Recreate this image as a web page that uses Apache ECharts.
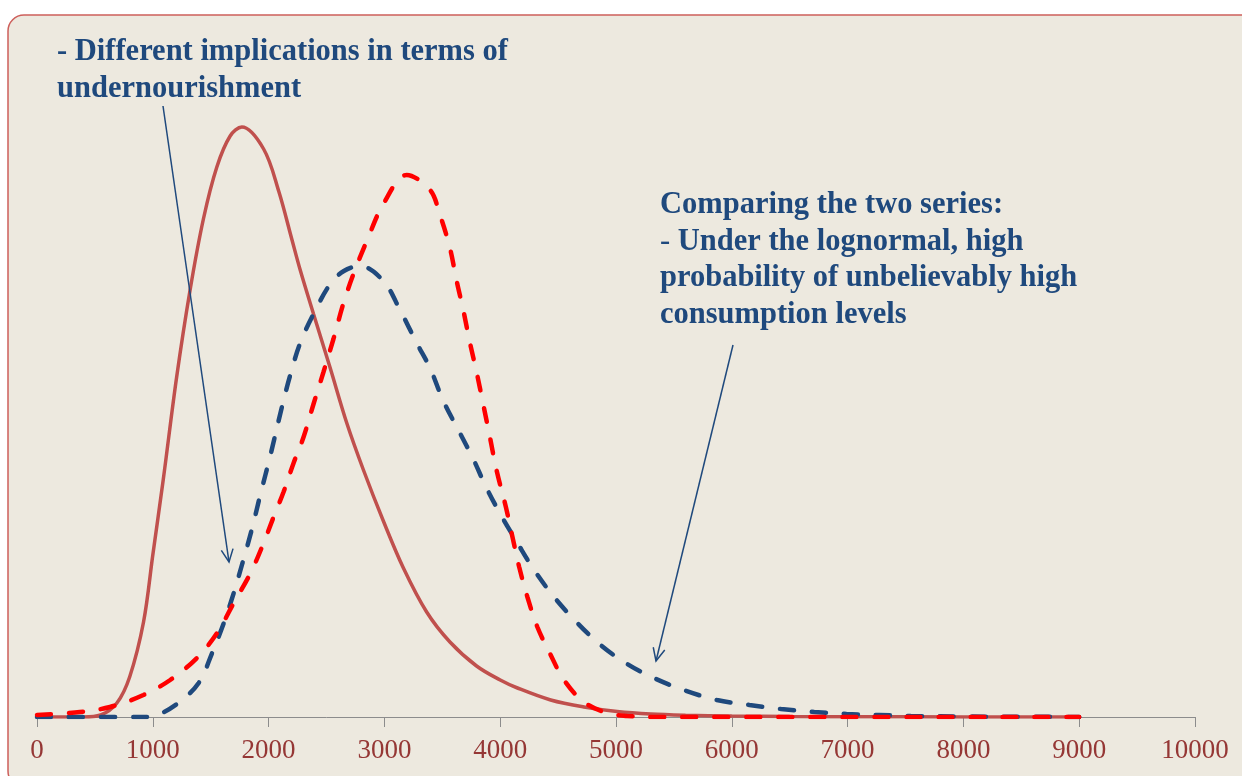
<!DOCTYPE html>
<html>
<head>
<meta charset="utf-8">
<title>Consumption distributions</title>
<script src="https://cdn.jsdelivr.net/npm/echarts@6/dist/echarts.min.js"></script>
<style>
  html, body { margin: 0; padding: 0; background: #ffffff; }
  #chart { width: 1242px; height: 776px; }
</style>
</head>
<body>
<div id="chart"></div>
<script>
// each curve: x (calories) and height (arbitrary density units)
// solid dark red curve
var solidX = [0, 400, 550, 690, 800, 920, 1000, 1091, 1206, 1322, 1437, 1553, 1668, 1769, 1957,
  2087, 2200, 2273, 2388, 2532, 2675, 2819, 2991, 3164, 3365, 3566, 3796, 4000, 4149, 4436, 4723,
  5010, 5300, 5600, 6000, 6500, 7000, 8000, 9000]
var solidY = [0, 0, 0.02, 0.14, 0.4, 0.95, 1.62, 2.38, 3.4, 4.27, 4.98, 5.5, 5.81, 5.9, 5.68,
  5.26, 4.78, 4.47, 4.03, 3.49, 2.94, 2.47, 1.96, 1.49, 1.05, 0.75, 0.51, 0.37, 0.29, 0.17, 0.1,
  0.055, 0.03, 0.018, 0.01, 0.005, 0.003, 0.001, 0]

// blue dashed curve (lognormal)
var blueX = [0, 900, 1006, 1208, 1396, 1512, 1613, 1699, 1772, 1856, 1928, 2014, 2115, 2187, 2273, 2388,
  2532, 2650, 2790, 2991, 3135, 3279, 3394, 3509, 3652, 3767, 3882, 4006, 4149, 4293, 4465, 4666,
  4867, 5096, 5326, 5584, 5871, 6152, 6425, 6712, 6991, 7273, 7546, 8000, 8500, 9000]
var blueY = [0, 0, 0.01, 0.13, 0.34, 0.64, 0.94, 1.24, 1.53, 1.88, 2.22, 2.61, 3.1, 3.42, 3.74, 4.03,
  4.33, 4.46, 4.51, 4.36, 4.07, 3.74, 3.49, 3.16, 2.84, 2.58, 2.29, 2.02, 1.74, 1.47, 1.2, 0.94,
  0.72, 0.53, 0.39, 0.27, 0.17, 0.12, 0.08, 0.05, 0.03, 0.02, 0.01, 0.005, 0.002, 0.001]

// red dashed curve
var redX = [0, 370, 630, 919, 1150, 1381, 1555, 1699, 1844, 1957, 2043, 2129, 2216, 2302, 2388, 2474,
  2560, 2647, 2733, 2848, 2991, 3193, 3394, 3480, 3566, 3624, 3681, 3739, 3796, 3853, 3911, 3968,
  4049, 4106, 4164, 4235, 4321, 4436, 4551, 4723, 4924, 5096, 5400, 9000]
var redY = [0.02, 0.05, 0.1, 0.22, 0.37, 0.59, 0.84, 1.14, 1.44, 1.74, 2.0, 2.25, 2.54, 2.8, 3.13, 3.45,
  3.78, 4.14, 4.43, 4.76, 5.13, 5.42, 5.27, 5.02, 4.69, 4.36, 4.07, 3.74, 3.45, 3.13, 2.8, 2.47,
  2.1, 1.8, 1.5, 1.2, 0.9, 0.62, 0.37, 0.15, 0.04, 0.01, 0, 0]

var xTicks = ['0', '1000', '2000', '3000', '4000', '5000', '6000', '7000', '8000', '9000', '10000']

var noteLeft = ['- Different implications in terms of', 'undernourishment']
var noteRight = ['Comparing the two series:', '{n|-} Under the lognormal, high', 'probability of unbelievably high', 'consumption levels']

function pairs(xs, ys) {
  return xs.map(function (x, i) { return [x, ys[i]] })
}

var serif = '"Liberation Serif", "DejaVu Serif", serif'
var noteColor = '#1F497D'

var graphics = [
  {
    type: 'rect',
    z: -10,
    shape: { x: 8, y: 15, width: 1252, height: 772, r: 16 },
    style: { fill: '#EDE9DF', stroke: '#CD5F5B', lineWidth: 1.5 },
  },
]

function addLines(lines, x, y0, step) {
  lines.forEach(function (t, i) {
    graphics.push({
      type: 'text',
      z: 50,
      x: x,
      y: y0 + i * step,
      style: {
        text: t,
        fill: noteColor,
        font: 'bold 30.5px ' + serif,
        verticalAlign: 'middle',
        rich: { n: { fontWeight: 'normal', fontSize: 30.5, fontFamily: serif, fill: noteColor } },
      },
    })
  })
}
addLines(noteLeft, 57, 52, 37)
addLines(noteRight, 660, 205, 36.7)

function addArrow(x1, y1, x2, y2) {
  var dx = x2 - x1, dy = y2 - y1
  var len = Math.sqrt(dx * dx + dy * dy)
  var bx = -dx / len, by = -dy / len
  var c = Math.cos(25 * Math.PI / 180), s = Math.sin(25 * Math.PI / 180)
  var h = 14
  var p1 = [x2 + h * (bx * c - by * s), y2 + h * (bx * s + by * c)]
  var p2 = [x2 + h * (bx * c + by * s), y2 + h * (-bx * s + by * c)]
  graphics.push({
    type: 'line', z: 50,
    shape: { x1: x1, y1: y1, x2: x2, y2: y2 },
    style: { stroke: noteColor, lineWidth: 1.5 },
  })
  graphics.push({
    type: 'polyline', z: 50,
    shape: { points: [p1, [x2, y2], p2] },
    style: { stroke: noteColor, lineWidth: 1.5, fill: null },
  })
}
addArrow(163, 106, 229, 562)
addArrow(733, 345, 656, 661)

var chart = echarts.init(document.getElementById('chart'))
chart.setOption({
  animation: false,
  backgroundColor: '#ffffff',
  graphic: graphics,
  grid: { left: 37, right: 47, top: 117, bottom: 59, containLabel: false },
  xAxis: {
    type: 'value',
    min: 0,
    max: 10000,
    interval: 1000,
    axisLine: { show: true, lineStyle: { color: '#8C8C8C', width: 1 } },
    axisTick: { show: true, length: 10, lineStyle: { color: '#8C8C8C' } },
    splitLine: { show: false },
    axisLabel: {
      color: '#953735',
      fontFamily: serif,
      fontSize: 27,
      margin: 20,
      formatter: function (v) { return xTicks[Math.round(v / 1000)] },
    },
  },
  yAxis: { type: 'value', min: 0, max: 6, show: false },
  series: [
    {
      name: 'solid',
      type: 'line',
      smooth: 0.35,
      symbol: 'none',
      data: pairs(solidX, solidY),
      lineStyle: { color: '#C0504D', width: 3.5 },
    },
    {
      name: 'lognormal',
      type: 'line',
      smooth: 0.35,
      symbol: 'none',
      data: pairs(blueX, blueY),
      lineStyle: { color: '#1F497D', width: 4.5, type: [14, 18], cap: 'round' },
    },
    {
      name: 'red dashed',
      type: 'line',
      smooth: 0.35,
      symbol: 'none',
      data: pairs(redX, redY),
      lineStyle: { color: '#FF0000', width: 4.5, type: [14, 18], cap: 'round' },
    },
  ],
})
</script>
</body>
</html>
